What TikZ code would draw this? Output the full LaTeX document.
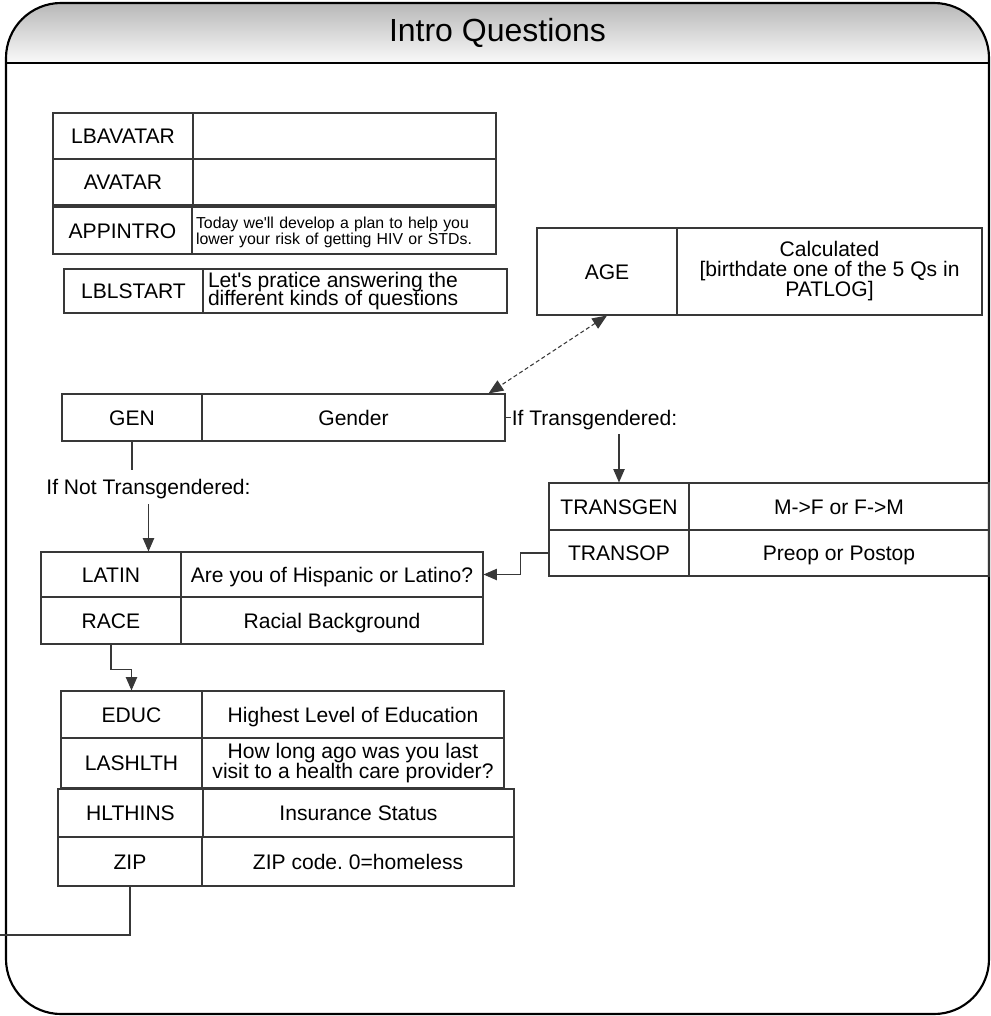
\documentclass[tikz,border=0pt]{standalone}
\usepackage{fontspec}
\setmainfont{Liberation Sans}
\usetikzlibrary{arrows.meta,calc}
\newcommand{\topstrut}{\rule{0pt}{0.966em}}
\newcommand{\botstrut}{\rule[-0.25em]{0pt}{0.25em}}
\newcommand{\sq}{\textquotesingle}
\newcommand{\lline}[1]{\makebox[220.5pt][l]{#1}}
\tikzset{
  cellbox/.style={draw=black!78, line width=0.8pt, inner sep=0pt, align=center,
    font=\fontsize{15.8}{15}\selectfont, text=black,
    execute at begin node=\topstrut, execute at end node=\botstrut},
  conn/.style={draw=black!78, line width=0.8pt},
  arr/.style={conn, -{Triangle[length=10pt,width=8.5pt]}},
  lbl/.style={fill=white, inner xsep=0.6pt, inner ysep=3pt,
    font=\fontsize{15.8}{15}\selectfont, text=black,
    execute at begin node=\topstrut, execute at end node=\botstrut},
  frameline/.style={draw=black, line width=1.6pt}
}
% #1 value style, #2 name, #3 x1, #4 xdiv, #5 x2, #6 ytop, #7 ybot, #8 key, #9 value
\newcommand{\qrow}[9][]{%
  \node[cellbox, minimum width={(#4-#3)*0.75pt}, minimum height={(#7-#6)*0.75pt}]
    (#2k) at ({(#3+#4)/2},{(#6+#7)/2}) {#8};
  \node[cellbox, minimum width={(#5-#4)*0.75pt}, minimum height={(#7-#6)*0.75pt}, #1]
    (#2v) at ({(#4+#5)/2},{(#6+#7)/2}) {#9};
}
\begin{document}
\frenchspacing
\lineskiplimit=-20pt
\begin{tikzpicture}[x=0.75pt,y=-0.75pt]
\useasboundingbox (0,0) rectangle (991,1016);
% frame with shaded header
\begin{scope}
  \clip[rounded corners=41.25pt] (6,3) rectangle (989,1014);
  \shade[top color=black!28, bottom color=black!2] (6,3) rectangle (989,63);
\end{scope}
\draw[frameline, rounded corners=41.25pt] (6,3) rectangle (989,1014);
\draw[frameline] (6,63) -- (989,63);
\node[font=\fontsize{24}{28}\selectfont] (title) at (497.5,33) {Intro Questions};

% tables
\qrow{LBAVATAR}{53}{193}{496}{113}{159}{LBAVATAR}{}
\qrow{AVATAR}{53}{193}{496}{159}{205}{AVATAR}{}
\qrow[text width={(304-8)*0.75pt}, align=left, font=\fontsize{11.9}{10.6}\selectfont]{APPINTRO}{53}{192}{496}{207}{254}{APPINTRO}{Today we\sq ll develop a plan to help you\\lower your risk of getting HIV or STDs.}
\qrow[align=left, font=\fontsize{15.8}{13.5}\selectfont]{LBLSTART}{64}{203}{507}{269}{313}{LBLSTART}{\lline{Let\sq s pratice answering the}\\\lline{different kinds of questions}}
\qrow{AGE}{537}{677}{982}{228}{315}{AGE}{Calculated\\{}[birthdate one of the 5 Qs in\\PATLOG]}
\qrow{GEN}{62}{202}{505}{394}{441}{GEN}{Gender}
\qrow{TRANSGEN}{549}{689}{989}{483}{530}{TRANSGEN}{M->F or F->M}
\qrow{TRANSOP}{549}{689}{989}{530}{576}{TRANSOP}{Preop or Postop}
\qrow{LATIN}{41}{181}{483}{552}{597}{LATIN}{Are you of Hispanic or Latino?}
\qrow{RACE}{41}{181}{483}{597}{644}{RACE}{Racial Background}
\qrow{EDUC}{61}{202}{504}{691}{738}{EDUC}{Highest Level of Education}
\qrow{LASHLTH}{61}{202}{504}{738}{788}{LASHLTH}{How long ago was you last\\visit to a health care provider?}
\qrow{HLTHINS}{58}{203}{514}{789}{837}{HLTHINS}{Insurance Status}
\qrow{ZIP}{58}{202}{514}{837}{886}{ZIP}{ZIP code. 0=homeless}

% connectors
\draw[conn, dash pattern=on 3pt off 2pt,
  {Triangle[length=11pt,width=9pt]}-{Triangle[length=11pt,width=9pt]}]
  (AGEk.south) -- ($(GENv.north east)+(-17,0)$);
\draw[arr] (GENv.east) -| (TRANSGENk.north);
\node[lbl] (lblT) at (594.5,417.5) {If Transgendered:};
\node[lbl] (lblN) at (148.5,487) {If Not Transgendered:};
\draw[conn] (GENk.south) -- (GENk.south |- lblN.north);
\draw[arr] (lblN.south) -- (lblN.south |- LATINk.north);
\draw[arr] (TRANSOPk.west) -- ++(-28,0) |- (LATINv.east);
\draw[arr] (RACEk.south) -- ++(0,25) -| (EDUCk.north);
\coordinate (zipend) at (0,935);
\draw[conn] (ZIPk.south) |- (zipend);
\end{tikzpicture}
\end{document}
